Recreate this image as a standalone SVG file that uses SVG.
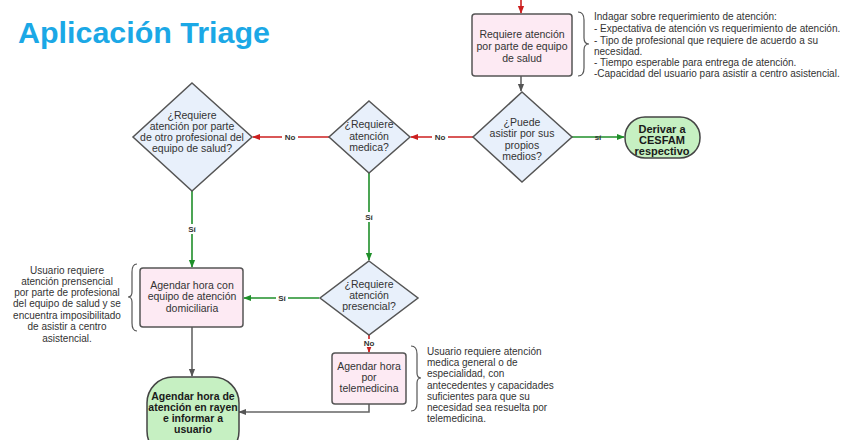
<svg xmlns="http://www.w3.org/2000/svg" width="846" height="440" viewBox="0 0 846 440">
<defs>
<marker id="ar" viewBox="0 0 10 10" refX="9" refY="5" markerWidth="8" markerHeight="8" markerUnits="userSpaceOnUse" orient="auto"><path d="M0,1 L10,5 L0,9 z" fill="#cc1f1f"/></marker>
<marker id="ag" viewBox="0 0 10 10" refX="9" refY="5" markerWidth="8" markerHeight="8" markerUnits="userSpaceOnUse" orient="auto"><path d="M0,1 L10,5 L0,9 z" fill="#1f8f2a"/></marker>
<marker id="ay" viewBox="0 0 10 10" refX="9" refY="5" markerWidth="8" markerHeight="8" markerUnits="userSpaceOnUse" orient="auto"><path d="M0,1 L10,5 L0,9 z" fill="#555"/></marker>
</defs>
<style>
text{font-family:"Liberation Sans",Arial,sans-serif;fill:#333;}
.t{font-size:10.5px;text-anchor:middle;}
.b{font-size:10.5px;text-anchor:middle;font-weight:bold;fill:#1a1a1a;}
.bl{font-size:11px;text-anchor:middle;font-weight:bold;fill:#1a1a1a;}
.n{font-size:10px;}
.nc{font-size:10px;text-anchor:middle;}
.lab{font-size:8px;font-weight:bold;text-anchor:middle;fill:#333;}
.rect{fill:#fdeaf3;stroke:#555;stroke-width:1.5;}
.dia{fill:#e8f0fb;stroke:#555;stroke-width:1.5;}
.term{fill:#c6f0c2;stroke:#444;stroke-width:1.5;}
.red{stroke:#cc1f1f;stroke-width:1.6;fill:none;}
.grn{stroke:#1f8f2a;stroke-width:1.6;fill:none;}
.gry{stroke:#666;stroke-width:1.6;fill:none;}
.brace{stroke:#555;stroke-width:1.2;fill:none;}
</style>
<rect width="846" height="440" fill="#ffffff"/>
<text x="18" y="43" font-family="Lato,'Open Sans',sans-serif" font-size="30" font-weight="bold" style="fill:#1ba8e6" textLength="252" lengthAdjust="spacingAndGlyphs">Aplicación Triage</text>

<g id="connectors">
<line class="red" x1="521" y1="0" x2="521" y2="13" marker-end="url(#ar)"/>
<line class="gry" x1="521" y1="76" x2="521" y2="91" marker-end="url(#ay)"/>
<line class="grn" x1="572" y1="137" x2="624" y2="137" marker-end="url(#ag)"/>
<text class="lab" x="598" y="140">sí</text>
<line class="red" x1="473" y1="137" x2="411" y2="137" marker-end="url(#ar)"/>
<rect x="432" y="132" width="16" height="9" fill="#fff"/>
<text class="lab" x="440" y="140">No</text>
<line class="red" x1="329" y1="137" x2="253" y2="137" marker-end="url(#ar)"/>
<rect x="282" y="132" width="16" height="9" fill="#fff"/>
<text class="lab" x="290" y="140">No</text>
<line class="grn" x1="192" y1="191" x2="192" y2="267" marker-end="url(#ag)"/>
<rect x="186" y="224" width="12" height="10" fill="#fff"/>
<text class="lab" x="192" y="232">Sí</text>
<line class="grn" x1="369" y1="173" x2="369" y2="260" marker-end="url(#ag)"/>
<rect x="363" y="212" width="12" height="10" fill="#fff"/>
<text class="lab" x="369" y="220">Sí</text>
<line class="grn" x1="319" y1="298" x2="244" y2="298" marker-end="url(#ag)"/>
<rect x="276" y="293" width="12" height="9" fill="#fff"/>
<text class="lab" x="282" y="301">Sí</text>
<line class="red" x1="369" y1="335" x2="369" y2="352" marker-end="url(#ar)"/>
<rect x="361" y="339" width="16" height="8" fill="#fff"/>
<text class="lab" x="369" y="346">No</text>
<line class="gry" x1="192" y1="327" x2="192" y2="376" marker-end="url(#ay)"/>
<polyline class="gry" points="369,404 369,412 239,412" marker-end="url(#ay)"/>
</g>

<g id="n-requiere">
<rect class="rect" x="472" y="14" width="100" height="62" rx="3"/>
<text class="t" x="522" y="38">Requiere atención</text>
<text class="t" x="522" y="50">por parte de equipo</text>
<text class="t" x="522" y="62">de salud</text>
</g>
<g id="note-top">
<path class="brace" d="M578,12 Q584,12 584,20 L584,38 Q584,44 589,44 Q584,44 584,50 L584,68 Q584,76 578,76"/>
<text class="n" x="594" y="20">Indagar sobre requerimiento de atención:</text>
<text class="n" x="594" y="32">- Expectativa de atención vs requerimiento de atención.</text>
<text class="n" x="594" y="44">- Tipo de profesional que requiere de acuerdo a su</text>
<text class="n" x="594" y="55">necesidad.</text>
<text class="n" x="594" y="66">- Tiempo esperable para entrega de atención.</text>
<text class="n" x="594" y="77">-Capacidad del usuario para asistir a centro asistencial.</text>
</g>
<g id="d-puede">
<polygon class="dia" points="522,92 572,137 522,182 473,137"/>
<text class="t" x="522" y="126">¿Puede</text>
<text class="t" x="522" y="137">asistir por sus</text>
<text class="t" x="522" y="149">propios</text>
<text class="t" x="522" y="160">medios?</text>
</g>
<g id="t-cesfam">
<rect class="term" x="625" y="117" width="75" height="41" rx="20"/>
<text class="bl" x="662" y="133">Derivar a</text>
<text class="bl" x="662" y="144">CESFAM</text>
<text class="bl" x="662" y="155">respectivo</text>
</g>
<g id="d-medica">
<polygon class="dia" points="369,101 410,137 369,173 329,137"/>
<text class="t" x="369" y="128">¿Requiere</text>
<text class="t" x="369" y="140">atención</text>
<text class="t" x="369" y="151">medica?</text>
</g>
<g id="d-otro">
<polygon class="dia" points="192,83 252,137 192,191 133,137"/>
<text class="t" x="192" y="119">¿Requiere</text>
<text class="t" x="192" y="130">atención por parte</text>
<text class="t" x="192" y="141">de otro profesional del</text>
<text class="t" x="192" y="152">equipo de salud?</text>
</g>
<g id="d-presencial">
<polygon class="dia" points="369,261 418,298 369,335 320,298"/>
<text class="t" x="369" y="288">¿Requiere</text>
<text class="t" x="369" y="299">atención</text>
<text class="t" x="369" y="310">presencial?</text>
</g>
<g id="n-domiciliaria">
<rect class="rect" x="140" y="268" width="103" height="59" rx="3"/>
<text class="t" x="192" y="289">Agendar hora con</text>
<text class="t" x="192" y="300">equipo de atención</text>
<text class="t" x="192" y="312">domiciliaria</text>
</g>
<g id="note-left">
<path class="brace" d="M137,264 Q132,264 132,272 L132,292 Q132,297 128,297 Q132,297 132,302 L132,323 Q132,331 137,331"/>
<text class="nc" x="67" y="274">Usuario requiere</text>
<text class="nc" x="67" y="285">atención prensencial</text>
<text class="nc" x="67" y="296">por parte de profesional</text>
<text class="nc" x="67" y="307">del equipo de salud y se</text>
<text class="nc" x="67" y="319">encuentra imposibilitado</text>
<text class="nc" x="67" y="330">de asistir a centro</text>
<text class="nc" x="67" y="342">asistencial.</text>
</g>
<g id="n-telemedicina">
<rect class="rect" x="332" y="353" width="74" height="51" rx="3"/>
<text class="t" x="369" y="370">Agendar hora</text>
<text class="t" x="369" y="381">por</text>
<text class="t" x="369" y="392">telemedicina</text>
</g>
<g id="note-right">
<path class="brace" d="M411,346 Q417,346 417,354 L417,373 Q417,378 421,378 Q417,378 417,383 L417,403 Q417,411 411,411"/>
<text class="n" x="427" y="355">Usuario requiere atención</text>
<text class="n" x="427" y="366">medica general o de</text>
<text class="n" x="427" y="377">especialidad, con</text>
<text class="n" x="427" y="389">antecedentes y capacidades</text>
<text class="n" x="427" y="400">suficientes para que su</text>
<text class="n" x="427" y="411">necesidad sea resuelta por</text>
<text class="n" x="427" y="422">telemedicina.</text>
</g>
<g id="t-rayen">
<rect class="term" x="147" y="377" width="92" height="80" rx="26"/>
<text class="b" x="193" y="400">Agendar hora de</text>
<text class="b" x="193" y="411">atención en rayen</text>
<text class="b" x="193" y="422">e informar a</text>
<text class="b" x="193" y="433">usuario</text>
</g>
</svg>
